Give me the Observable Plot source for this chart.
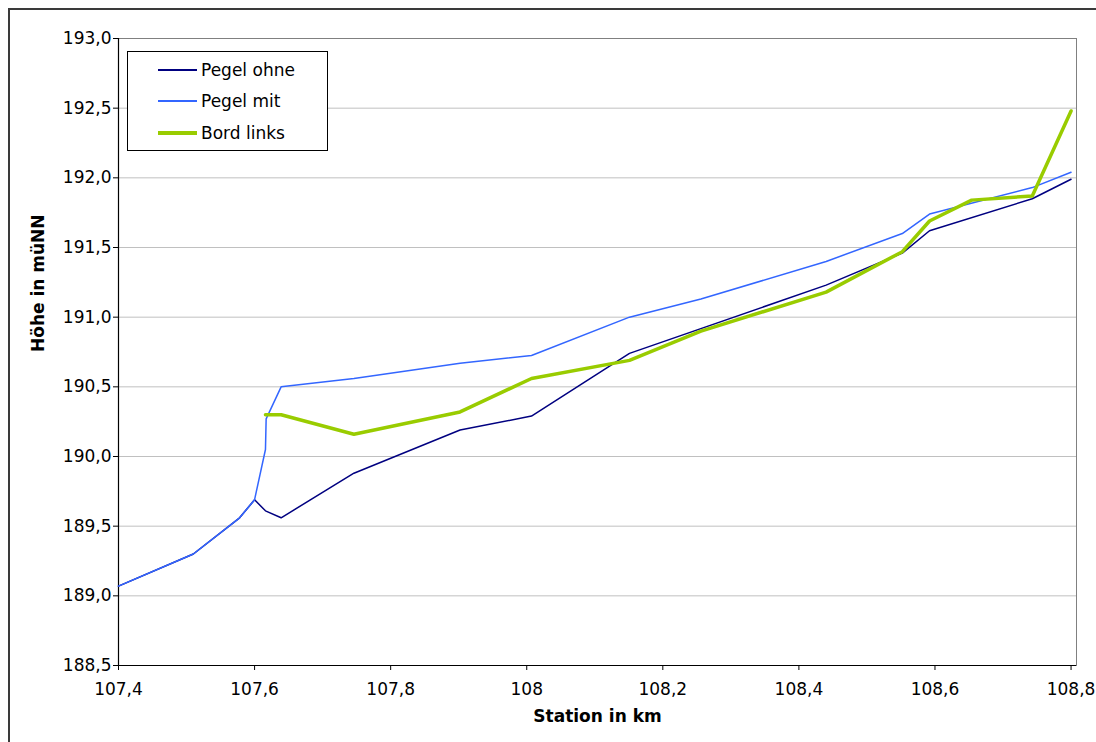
<!DOCTYPE html>
<html>
<head>
<meta charset="utf-8">
<script src="https://cdn.jsdelivr.net/npm/d3@7"></script>
<script src="https://cdn.jsdelivr.net/npm/@observablehq/plot@0.6"></script>
<style>
  html, body { margin: 0; padding: 0; background: #fff; overflow: hidden; }
  #wrap { position: relative; width: 1096px; height: 742px; }
  #outer { position: absolute; left: 8px; top: 8px; width: 1100px; height: 760px;
           border: 2px solid #3a3a3a; box-sizing: border-box; }
  #chart { position: absolute; left: 0; top: 0; }
  #legend { position: absolute; left: 127px; top: 51px; width: 201px; height: 100px;
            box-sizing: border-box; border: 1px solid #000; background: #fff;
            font-family: "DejaVu Sans", Verdana, sans-serif; font-size: 17px; color: #000; }
  .row { position: absolute; left: 0; height: 20px; display: flex; align-items: center; }
  .swatch { position: absolute; left: 30px; width: 39px; }
  .lbl { position: absolute; left: 73px; white-space: nowrap; line-height: 20px; top: 0; }
</style>
</head>
<body>
<div id="wrap">
  <div id="outer"></div>
  <div id="chart"></div>
  <div id="legend"></div>
</div>
<script>
// Water level profiles along the river section (station in km, height in m above NN)
const seriesNames = ["Pegel ohne", "Pegel mit", "Bord links"];
const seriesColors = ["#000080", "#3366ff", "#99cc00"];
const seriesWidths = [1.5, 1.5, 3.5];

const stationOhne = [107.4, 107.51, 107.578, 107.6, 107.616, 107.639, 107.746, 107.902, 108.007, 108.151, 108.44, 108.552, 108.592, 108.743, 108.8];
const hoeheOhne   = [189.07, 189.30, 189.56, 189.69, 189.61, 189.56, 189.88, 190.19, 190.29, 190.74, 191.23, 191.46, 191.62, 191.85, 191.99];

const stationMit = [107.4, 107.51, 107.578, 107.6, 107.616, 107.617, 107.639, 107.746, 107.902, 108.007, 108.151, 108.256, 108.44, 108.552, 108.592, 108.743, 108.8];
const hoeheMit   = [189.07, 189.30, 189.56, 189.69, 190.05, 190.27, 190.50, 190.56, 190.67, 190.725, 191.00, 191.13, 191.40, 191.60, 191.74, 191.93, 192.04];

const stationBord = [107.616, 107.639, 107.746, 107.902, 108.007, 108.151, 108.256, 108.44, 108.552, 108.592, 108.654, 108.743, 108.8];
const hoeheBord   = [190.30, 190.30, 190.16, 190.32, 190.56, 190.69, 190.90, 191.18, 191.47, 191.69, 191.84, 191.87, 192.48];

const xTicks = [107.4, 107.6, 107.8, 108.0, 108.2, 108.4, 108.6, 108.8];
const yTicks = [188.5, 189.0, 189.5, 190.0, 190.5, 191.0, 191.5, 192.0, 192.5, 193.0];
const gridTicks = [189.0, 189.5, 190.0, 190.5, 191.0, 191.5, 192.0, 192.5];

const xLabel = "Station in km";
const yLabel = "Höhe in müNN";

const toRows = (xs, ys, name) => xs.map((x, i) => ({station: x, hoehe: ys[i], series: name}));
const rowsOhne = toRows(stationOhne, hoeheOhne, seriesNames[0]);
const rowsMit = toRows(stationMit, hoeheMit, seriesNames[1]);
const rowsBord = toRows(stationBord, hoeheBord, seriesNames[2]);

const fmtX = d => String(+d.toFixed(1)).replace(".", ",");
const fmtY = d => d.toFixed(1).replace(".", ",");

const chart = Plot.plot({
  width: 1096,
  height: 742,
  marginLeft: 118,
  marginRight: 20,
  marginTop: 38,
  marginBottom: 77,
  style: {fontFamily: "DejaVu Sans, Verdana, sans-serif", fontSize: "17px", color: "#000", background: "transparent", overflow: "visible"},
  x: {domain: [107.4, 108.808]},
  y: {domain: [188.5, 193.0]},
  marks: [
    Plot.gridY(gridTicks, {stroke: "#c0c0c0", strokeOpacity: 1}),
    Plot.frame({stroke: "#808080"}),
    Plot.axisY({ticks: yTicks, tickFormat: fmtY, tickSize: 5, tickPadding: 2, label: null, stroke: "#000"}),
    Plot.axisX({ticks: xTicks, tickFormat: fmtX, tickSize: 5, tickPadding: 12, label: null, stroke: "#000"}),
    Plot.ruleX([107.4], {stroke: "#000", strokeWidth: 1.2}),
    Plot.ruleY([188.5], {stroke: "#000", strokeWidth: 1.2}),
    Plot.line(rowsOhne, {x: "station", y: "hoehe", stroke: seriesColors[0], strokeWidth: seriesWidths[0]}),
    Plot.line(rowsMit, {x: "station", y: "hoehe", stroke: seriesColors[1], strokeWidth: seriesWidths[1]}),
    Plot.line(rowsBord, {x: "station", y: "hoehe", stroke: seriesColors[2], strokeWidth: seriesWidths[2]}),
    Plot.text([xLabel], {frameAnchor: "bottom", dy: 56, fontWeight: "bold", fontSize: 17}),
    Plot.text([yLabel], {frameAnchor: "left", rotate: -90, dx: -80, fontWeight: "bold", fontSize: 17})
  ]
});
document.getElementById("chart").appendChild(chart);

// Legend box in the upper left corner of the plot area
const legend = document.getElementById("legend");
const rowTops = [8, 39, 71];
seriesNames.forEach((name, i) => {
  const row = document.createElement("div");
  row.className = "row";
  row.style.top = rowTops[i] + "px";
  row.style.width = "100%";
  const sw = document.createElement("div");
  sw.className = "swatch";
  sw.style.top = (10 - Math.round(seriesWidths[i] / 2)) + "px";
  sw.style.height = seriesWidths[i] + "px";
  sw.style.background = seriesColors[i];
  const lb = document.createElement("div");
  lb.className = "lbl";
  lb.textContent = name;
  row.appendChild(sw);
  row.appendChild(lb);
  legend.appendChild(row);
});
</script>
</body>
</html>
